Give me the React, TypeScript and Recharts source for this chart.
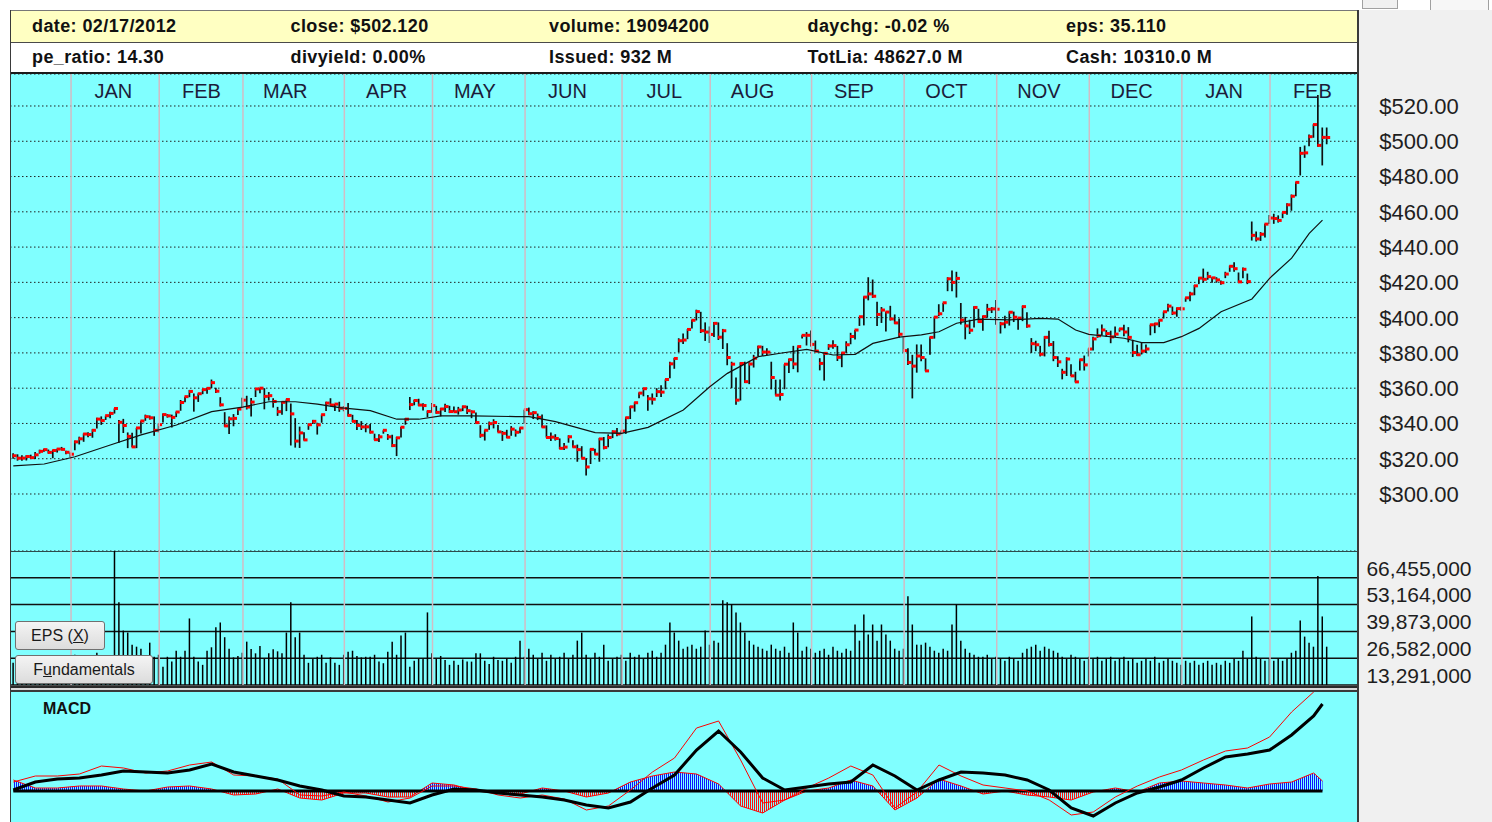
import React from 'react';
import { ComposedChart, Bar, Line, Area, XAxis, YAxis, CartesianGrid, ReferenceLine } from 'recharts';

const FONT = "'Liberation Sans', Arial, sans-serif";
const CYAN = '#80ffff';
const MONTH_LINE = '#d2bcc4';

// ---------- header ----------
const headerRow1 = ['date: 02/17/2012', 'close: $502.120', 'volume: 19094200', 'daychg: -0.02 %', 'eps: 35.110'];
const headerRow2 = ['pe_ratio: 14.30', 'divyield: 0.00%', 'Issued: 932 M', 'TotLia: 48627.0 M', 'Cash: 10310.0 M'];

// ---------- months ----------
const monthNames = ['JAN', 'FEB', 'MAR', 'APR', 'MAY', 'JUN', 'JUL', 'AUG', 'SEP', 'OCT', 'NOV', 'DEC', 'JAN', 'FEB'];
const monthFirstIdx = [14, 34, 53, 76, 96, 117, 139, 159, 182, 203, 224, 245, 266, 286];

// ---------- daily prices (Dec 13 2010 .. Feb 17 2012) ----------
const closes = [
  321.67, 320.29, 320.36, 321.25, 320.61, 322.21, 324.2, 325.16, 323.6, 324.68, 325.47, 325.29, 323.66, 322.56,
  329.57, 331.29, 334.0, 333.73, 336.12, 342.46, 341.64, 344.42, 345.68, 348.48, 340.65, 338.84, 332.68, 326.72, 337.45, 341.4, 343.85, 343.21, 336.1, 339.32,
  345.03, 344.32, 343.44, 346.5, 351.88, 355.2, 358.16, 354.54, 356.85, 359.18, 359.9, 363.13, 358.3, 350.56, 338.61, 342.62, 342.88, 348.16, 353.21,
  349.31, 352.12, 359.56, 360.0, 355.36, 355.76, 352.47, 346.67, 351.99, 353.56, 345.43, 330.01, 334.64, 330.67, 339.3, 341.2, 339.19, 344.97, 351.54, 350.44, 350.96, 348.63, 348.51,
  344.56, 341.19, 338.89, 338.04, 338.08, 335.06, 330.8, 332.4, 336.13, 332.42, 327.46, 331.85, 337.86, 342.41, 350.7, 353.01, 350.42, 350.15, 346.75, 350.13,
  346.28, 348.2, 349.57, 346.75, 346.66, 347.6, 349.45, 347.23, 346.57, 340.5, 333.3, 336.14, 339.87, 340.53, 335.22, 334.4, 332.19, 336.78, 335.0, 337.41, 347.83,
  345.51, 346.1, 343.44, 338.04, 332.04, 332.24, 331.49, 325.9, 326.6, 332.44, 326.75, 325.16, 320.26, 315.32, 325.3, 322.61, 331.23, 326.35, 332.04, 335.26, 334.04, 335.67,
  343.26, 349.43, 351.76, 357.2, 359.71, 354.0, 353.75, 358.02, 357.77, 364.92, 373.8, 376.85, 386.9, 387.29, 393.3, 398.5, 403.41, 392.59, 391.82, 390.48,
  396.75, 388.91, 392.57, 377.37, 373.62, 353.21, 374.01, 363.69, 373.7, 376.99, 383.41, 380.48, 380.44, 366.05, 356.03, 356.44, 373.6, 376.18, 373.72, 383.58, 389.97, 389.99, 384.83,
  381.03, 374.05, 379.74, 383.93, 384.14, 377.48, 379.94, 384.62, 389.3, 392.96, 400.5, 411.63, 413.45, 412.14, 401.82, 404.3, 403.17, 399.26, 397.01, 390.57, 381.32,
  374.6, 372.5, 378.25, 377.37, 369.8, 388.81, 400.29, 402.19, 408.43, 422.0, 419.99, 422.24, 398.62, 395.31, 392.87, 405.77, 397.77, 400.6, 404.69, 404.95, 404.78,
  396.51, 397.41, 403.07, 400.24, 399.73, 406.23, 395.28, 385.22, 384.62, 379.26, 388.83, 384.77, 377.41, 374.94, 369.01, 376.51, 366.99, 363.57, 376.12, 373.2, 382.2,
  387.93, 389.7, 393.01, 390.95, 389.09, 390.66, 393.62, 391.84, 388.81, 380.19, 378.94, 381.02, 382.21, 395.95, 396.45, 398.55, 403.33, 406.53, 402.64, 405.12, 405.0,
  411.23, 413.44, 418.03, 422.4, 421.73, 423.24, 422.55, 421.39, 419.81, 424.7, 429.11, 427.75, 420.3, 427.41, 420.41, 446.66, 444.63, 447.28, 453.01, 456.48,
  456.19, 455.12, 459.68, 463.97, 468.83, 476.68, 493.17, 493.42, 502.6, 509.46, 497.67, 502.21, 502.12,
];
const highs = [
  323.1, 322.5, 321.9, 322.0, 322.3, 323.8, 325.1, 325.7, 325.2, 325.0, 325.7, 326.7, 324.5, 323.5,
  330.3, 332.5, 334.3, 335.0, 336.7, 343.2, 344.0, 344.4, 346.6, 348.5, 342.0, 342.6, 334.9, 334.7, 337.5, 341.5, 345.0, 344.5, 344.0, 340.0,
  345.6, 345.3, 345.0, 346.7, 353.3, 355.2, 359.0, 357.0, 357.0, 359.5, 360.0, 364.9, 360.3, 354.9, 346.4, 344.0, 345.3, 348.4, 354.6,
  355.7, 354.4, 359.8, 360.0, 360.0, 357.8, 354.3, 349.4, 352.3, 353.6, 351.3, 343.0, 338.2, 335.0, 339.6, 342.0, 340.4, 345.0, 352.3, 354.3, 351.0, 352.3, 349.8,
  351.6, 344.9, 342.0, 341.3, 339.7, 339.7, 334.2, 333.9, 336.1, 334.0, 333.6, 332.4, 338.0, 343.0, 355.0, 353.4, 354.0, 351.5, 347.3, 351.6,
  350.0, 348.7, 351.2, 350.0, 349.6, 349.4, 350.1, 350.0, 347.4, 346.2, 339.0, 336.2, 341.1, 342.4, 339.1, 335.7, 336.4, 338.5, 336.6, 337.7, 347.8,
  349.0, 347.0, 345.6, 345.1, 338.9, 334.8, 333.9, 331.5, 328.9, 333.3, 330.5, 328.0, 327.1, 320.2, 325.8, 325.7, 331.7, 332.3, 333.8, 336.1, 337.4, 336.0,
  343.5, 349.8, 352.0, 357.6, 360.0, 356.1, 357.0, 360.0, 361.6, 365.0, 375.0, 377.1, 388.3, 391.0, 393.5, 398.8, 404.5, 403.3, 397.3, 395.0,
  397.5, 397.3, 393.6, 385.5, 375.0, 366.0, 374.7, 375.0, 374.6, 378.9, 384.0, 384.0, 382.6, 375.0, 364.8, 364.9, 373.6, 376.7, 384.0, 383.6, 390.0, 391.8, 392.7,
  387.0, 377.0, 380.4, 385.0, 387.2, 384.0, 380.3, 386.6, 391.4, 393.0, 400.5, 412.0, 422.9, 421.6, 409.0, 406.0, 403.4, 406.7, 401.8, 399.5, 388.9,
  382.7, 378.9, 384.8, 384.8, 376.9, 388.9, 400.5, 407.6, 408.4, 422.9, 426.7, 426.0, 408.3, 400.4, 398.8, 406.4, 405.0, 401.0, 407.8, 406.0, 410.0,
  397.6, 401.0, 403.5, 403.4, 399.8, 406.8, 403.0, 388.4, 386.9, 384.0, 389.5, 392.5, 386.7, 378.1, 371.0, 377.5, 373.6, 369.3, 376.3, 378.5, 382.5,
  389.2, 393.9, 396.1, 392.9, 392.6, 395.0, 393.9, 395.9, 394.6, 387.4, 384.6, 385.7, 384.8, 396.0, 397.0, 399.0, 403.4, 407.9, 406.3, 405.7, 406.2,
  411.3, 414.7, 418.5, 422.8, 427.8, 426.0, 422.9, 422.9, 421.0, 426.0, 429.5, 431.4, 425.6, 428.4, 425.0, 454.5, 448.8, 448.5, 453.2, 458.2,
  458.9, 458.0, 459.7, 464.9, 469.8, 476.8, 496.8, 497.6, 503.8, 509.6, 526.3, 507.8, 507.8,
];
const lows = [
  320.0, 318.9, 318.8, 319.0, 319.9, 319.8, 322.9, 323.9, 322.9, 320.3, 323.5, 324.9, 322.6, 320.8,
  324.8, 328.1, 329.6, 332.2, 331.9, 337.2, 339.2, 342.0, 343.0, 345.6, 329.0, 334.6, 326.0, 326.5, 326.0, 334.3, 341.5, 342.2, 333.0, 335.0,
  340.5, 343.3, 337.7, 343.6, 347.2, 352.0, 354.9, 346.7, 352.2, 356.6, 356.8, 360.0, 357.3, 349.6, 338.2, 334.0, 338.4, 344.8, 348.8,
  347.9, 344.0, 355.0, 357.1, 348.0, 353.0, 349.0, 344.3, 345.0, 347.0, 327.5, 326.3, 326.1, 330.4, 336.4, 339.7, 333.7, 340.4, 347.0, 350.3, 347.0, 346.6, 346.9,
  344.0, 340.8, 336.3, 336.3, 335.0, 334.3, 330.5, 329.5, 334.2, 330.7, 326.6, 321.5, 332.0, 339.3, 347.6, 350.3, 350.0, 347.3, 343.6, 346.0,
  345.5, 344.0, 346.5, 345.9, 346.6, 345.0, 347.0, 345.3, 343.0, 340.1, 331.9, 330.3, 336.4, 337.2, 335.0, 330.1, 331.8, 333.0, 332.5, 334.4, 340.0,
  344.7, 342.5, 341.9, 337.7, 332.0, 330.0, 330.3, 325.5, 324.9, 329.1, 326.4, 318.3, 320.2, 310.5, 317.0, 322.4, 318.3, 325.3, 326.5, 331.7, 332.7, 333.8,
  334.1, 342.5, 346.7, 354.3, 355.4, 347.2, 350.7, 355.0, 355.0, 359.4, 365.6, 371.0, 380.3, 385.1, 387.8, 393.8, 398.4, 391.3, 386.8, 385.6,
  389.0, 387.3, 382.2, 373.0, 360.0, 350.6, 353.0, 363.0, 362.3, 371.7, 378.1, 378.3, 378.6, 359.3, 355.9, 353.0, 359.4, 368.6, 370.8, 369.0, 388.1, 384.2, 383.6,
  380.5, 370.1, 364.3, 381.7, 382.4, 375.4, 371.9, 380.0, 384.9, 387.6, 395.3, 395.6, 409.8, 411.2, 395.3, 397.0, 392.2, 398.4, 396.5, 388.6, 380.4,
  373.2, 354.2, 368.8, 375.3, 369.6, 379.0, 388.1, 400.8, 403.3, 415.0, 415.0, 411.4, 396.1, 387.7, 390.7, 394.4, 397.1, 392.5, 400.0, 402.6, 396.0,
  391.0, 394.0, 395.5, 397.5, 393.2, 398.0, 394.2, 380.0, 381.0, 378.0, 378.0, 383.7, 375.3, 372.0, 365.0, 366.9, 366.9, 363.3, 370.0, 370.0, 378.0,
  381.4, 388.6, 390.0, 389.1, 385.5, 389.0, 392.0, 389.4, 386.0, 377.7, 378.2, 379.1, 380.0, 390.0, 391.2, 394.6, 399.5, 403.5, 401.5, 400.5, 404.0,
  409.0, 409.3, 412.7, 419.0, 419.8, 421.5, 419.8, 419.8, 418.6, 422.4, 426.0, 426.0, 419.6, 422.3, 419.0, 443.7, 443.1, 443.5, 445.4, 453.1,
  453.2, 453.9, 456.4, 458.4, 460.6, 468.8, 480.6, 490.6, 497.2, 502.0, 496.9, 486.3, 498.3,
];

// moving average, read at sampled bars
const maIdx = [0, 7, 14, 22, 29, 37, 45, 52, 58, 64, 69, 74, 81, 87, 92, 97, 104, 114, 117, 123, 132, 138, 144, 152, 158, 162, 169, 174, 180, 186, 191, 195, 201, 206, 210, 214, 219, 226, 233, 237, 241, 244, 252, 256, 261, 265, 269, 274, 281, 285, 290, 294, 297];
const maVal = [316.0, 317.0, 321.1, 327.8, 333.5, 339.1, 346.7, 349.3, 352.3, 352.3, 351.0, 349.0, 347.3, 342.4, 342.4, 344.3, 344.3, 343.9, 343.9, 341.0, 334.8, 334.4, 337.8, 347.6, 360.8, 368.4, 377.9, 379.8, 382.0, 378.8, 379.2, 385.4, 388.9, 390.2, 392.0, 396.8, 399.1, 398.7, 399.6, 399.2, 393.0, 390.5, 388.3, 385.8, 385.8, 389.2, 393.9, 403.3, 410.6, 422.3, 433.7, 447.8, 455.3];

// daily volume, millions
const volumesM = [
  11, 10, 11, 12, 12, 10, 9, 8, 7, 7, 9, 8, 9, 7,
  15, 11, 13, 11, 13, 16, 12, 10, 11, 68, 41, 27, 26, 20, 19, 18, 14, 21, 14, 15,
  9, 14, 11.6, 17, 14, 17, 33, 14, 11.6, 10, 17, 18.7, 28.6, 31, 23.7, 18, 13.7, 14.4, 16, 21.5,
  17.8, 15.7, 19.3, 13, 15.7, 17.7, 16.7, 15.7, 26, 41, 23.7, 26, 15, 11, 13, 14, 15, 11, 13.7, 11,
  10, 15, 16.5, 17, 14.4, 13.7, 14, 14, 15, 11.6, 10.8, 16.5, 21.5, 15, 24.5, 26, 9, 12, 13, 13,
  36, 15.7, 13, 14.4, 12.4, 10, 12, 10, 12.7, 11.6, 11.6, 15.7, 15.7, 12, 10.4, 14, 12.4,
  12, 13, 11, 14, 22, 14, 18, 15, 13, 16,
  12, 15, 13, 14, 16, 13, 15, 22, 26, 15,
  13, 16, 14, 20, 12, 13, 14, 15, 12, 16,
  14, 15, 13, 16, 17, 14, 16, 20, 31, 26,
  22, 18, 19, 20, 18, 19, 27, 20, 22, 21,
  42, 41, 40, 36, 31, 26, 22, 20, 19, 18,
  17, 20, 18, 17, 19, 16, 31, 26, 17, 19,
  18, 16, 17, 18, 15, 19, 17, 16, 18, 17,
  30, 22, 35, 25, 30, 22, 30, 25, 22, 18,
  17, 18, 44, 30, 20, 20, 21, 19, 17, 16,
  18, 17, 30, 40, 22, 18, 16, 15, 14, 14,
  15, 13, 14, 13, 12, 14, 13, 12, 16, 18,
  19, 20, 17, 19, 18, 17, 16, 14, 13, 15,
  14, 13, 12, 14, 13, 14, 12, 13, 14, 12,
  13, 14, 12, 13, 11, 12, 13, 12, 14, 11,
  12, 13, 12, 11, 10, 12, 11, 12, 10, 11,
  12, 10, 11, 10, 12, 11, 13, 12, 17, 13,
  34, 14, 13, 12, 13, 12, 13, 12, 13, 16,
  17, 32, 24, 21, 19, 54, 34, 19,
];

// MACD panel, read at every 5th bar
const macdIdx = [0, 5, 10, 15, 20, 25, 30, 35, 40, 45, 50, 55, 60, 65, 70, 75, 80, 85, 90, 95, 100, 105, 110, 115, 120, 125, 130, 135, 140, 145, 150, 155, 160, 165, 170, 175, 180, 185, 190, 195, 200, 205, 210, 215, 220, 225, 230, 235, 240, 245, 250, 255, 260, 265, 270, 275, 280, 285, 290, 295, 297];
const macdLine = [1.8, 3.0, 3.0, 3.4, 5.0, 4.6, 3.6, 4.0, 5.2, 5.8, 3.2, 3.0, 2.4, -0.8, -1.0, -0.2, -1.0, -2.2, -1.4, 1.0, 1.0, 0.4, -0.8, -1.4, -0.8, -1.6, -3.8, -3.0, 0.2, 3.8, 6.6, 12.6, 14.0, 6.2, -2.4, -1.8, 0.6, 2.6, 5.0, 3.2, -3.4, -0.2, 5.2, 3.0, 1.2, 0.6, 0, -1.8, -4.8, -4.2, -1.2, 1.0, 2.8, 4.2, 6.2, 8.0, 8.6, 10.8, 15.8, 19.8, 21];
const signalLine = [0.2, 1.8, 2.4, 2.6, 3.2, 4.0, 3.8, 3.6, 4.2, 5.4, 3.8, 3.0, 2.2, 1.0, 0.2, -1.0, -1.2, -1.8, -2.4, -0.8, 0.4, 0.2, -0.4, -0.8, -1.2, -1.8, -2.8, -3.4, -2.2, 0.6, 3.2, 8.2, 12.0, 7.8, 2.6, 0.2, 0.8, 1.4, 1.8, 5.2, 3.0, 0.2, 2.2, 3.8, 3.6, 3.2, 2.2, 0.2, -3.4, -5.0, -2.4, -0.4, 0.8, 2.2, 4.6, 6.8, 7.4, 8.2, 11.2, 15.0, 17.4];
const histLine = [2.2, 0.6, 0.6, 1.0, 1.0, 0.4, 0, 0.8, 1.0, 0.4, -0.8, -0.6, 0.4, -1.4, -1.8, -0.4, -0.4, -1.2, -1.2, 1.6, 1.2, 0, -0.4, -0.6, 0.6, 0, -1.2, -0.4, 1.8, 3.0, 3.8, 3.4, 1.4, -3.0, -4.4, -1.8, 0, 0.6, 2.2, 1.0, -3.8, -1.4, 2.4, 1.0, -0.6, 0, -0.8, -1.2, -1.8, -0.2, 0.6, -0.2, 1.6, 2.0, 1.6, 1.2, 0.6, 1.4, 1.8, 3.6, 2.0];

const priceTicks = [300, 320, 340, 360, 380, 400, 420, 440, 460, 480, 500, 520];
const volumeTicks = [13291000, 26582000, 39873000, 53164000, 66455000];

// ---------- derived tables ----------
const priceData = closes.map((c, i) => ({
  i,
  close: c,
  high: highs[i],
  low: lows[i],
  vol: volumesM[i] * 1e6,
  ma: null as number | null,
}));
maIdx.forEach((idx, k) => {
  priceData[idx].ma = maVal[k];
});
const macdData = macdIdx.map((i, k) => ({ i, macd: macdLine[k], signal: signalLine[k], hist: histLine[k] }));

const monthLineIdx = monthFirstIdx.map((f) => f - 0.9);
const monthLabelIdx = monthFirstIdx.map((f) => f + 8.7);
const X_DOMAIN: [number, number] = [-0.75, 305.06];

// ---------- shapes & ticks ----------
const OhlcShape = (p: any) => {
  const { x, y, width, height, payload } = p;
  if (x == null || y == null || !payload) return null;
  const top = Math.min(y, y + height);
  const h = Math.abs(height);
  const cx = x + width / 2;
  const range = payload.high - payload.low;
  const cy = range > 0 ? top + ((payload.high - payload.close) / range) * h : top;
  return (
    <g>
      <line x1={cx} x2={cx} y1={top} y2={top + h} stroke="#101010" strokeWidth={1.7} />
      <rect x={cx - 0.5} y={cy - 1.5} width={4} height={3} fill="#ff0000" />
    </g>
  );
};

const VolShape = (p: any) => {
  const { x, y, width, height } = p;
  if (x == null || y == null) return null;
  const top = Math.min(y, y + height);
  const h = Math.abs(height);
  const cx = x + width / 2;
  return <line x1={cx} x2={cx} y1={top} y2={top + h} stroke="#000" strokeWidth={1.5} />;
};

const MonthLabel = (p: any) => {
  const vb = p.viewBox || {};
  return (
    <text x={vb.x} y={17} textAnchor="middle" dominantBaseline="central" fontSize={20} fill="#1c1c3a" fontFamily={FONT}>
      {p.text}
    </text>
  );
};

const PriceTick = (p: any) => (
  <text x={1409} y={p.y} dy="0.36em" textAnchor="middle" fontSize={22} fill="#1e1e1e" fontFamily={FONT}>
    {'$' + Number(p.payload.value).toFixed(2)}
  </text>
);

const VolTick = (p: any) => (
  <text x={1409} y={p.y + 17} dy="0.36em" textAnchor="middle" fontSize={21} fill="#1e1e1e" fontFamily={FONT}>
    {Number(p.payload.value).toLocaleString('en-US')}
  </text>
);

const btnStyle: React.CSSProperties = {
  position: 'absolute',
  left: 15,
  height: 29,
  border: '1px solid #707070',
  borderRadius: 3,
  background: 'linear-gradient(#f4f4f4, #dcdcdc)',
  fontFamily: FONT,
  fontSize: 16,
  color: '#1a1a1a',
  display: 'flex',
  alignItems: 'center',
  justifyContent: 'center',
  boxSizing: 'border-box',
};

const headStyle: React.CSSProperties = {
  position: 'absolute',
  fontSize: 18,
  fontWeight: 'bold',
  color: '#111',
  whiteSpace: 'nowrap',
  lineHeight: '22px',
  letterSpacing: 0.4,
};

export default function App() {
  return (
    <div style={{ position: 'absolute', left: 0, top: 0, width: 1492, height: 822, background: '#fff', overflow: 'hidden', fontFamily: FONT }}>
      {/* window bits at top right */}
      <div style={{ position: 'absolute', left: 1362, top: -12, width: 34, height: 19, border: '1px solid #a0a0a0', background: '#f0f0f0' }} />
      <div style={{ position: 'absolute', left: 1430, top: -12, width: 57, height: 21, border: '1px solid #a0a0a0', background: '#f7f7f7' }} />
      {/* right gray panel */}
      <div style={{ position: 'absolute', left: 1359, top: 10, width: 133, height: 812, background: '#f0f0f0' }} />

      {/* header rows */}
      <div style={{ position: 'absolute', left: 10, top: 10, width: 1348, height: 32, background: '#ffffc2', borderTop: '1px solid #777', boxSizing: 'border-box' }} />
      <div style={{ position: 'absolute', left: 10, top: 42, width: 1348, height: 1, background: '#4a4a4a' }} />
      <div style={{ position: 'absolute', left: 10, top: 43, width: 1348, height: 29, background: '#fff' }} />
      <div style={{ position: 'absolute', left: 10, top: 72, width: 1348, height: 2, background: '#1a1a1a' }} />
      {headerRow1.map((t, k) => (
        <div key={'h1' + k} style={{ ...headStyle, left: 32 + k * 258.5, top: 15 }}>
          {t}
        </div>
      ))}
      {headerRow2.map((t, k) => (
        <div key={'h2' + k} style={{ ...headStyle, left: 32 + k * 258.5, top: 46 }}>
          {t}
        </div>
      ))}

      {/* price panel */}
      <div style={{ position: 'absolute', left: 10, top: 74 }}>
        <ComposedChart width={1482} height={477} data={priceData} margin={{ top: 0, right: 0, bottom: 0, left: 0 }}>
          <CartesianGrid vertical={false} fill={CYAN} stroke="#222" strokeDasharray="1.5 2.5" />
          <XAxis type="number" dataKey="i" domain={X_DOMAIN} allowDataOverflow hide />
          <YAxis
            orientation="right"
            width={134}
            domain={[267.68, 538.14]}
            allowDataOverflow
            ticks={priceTicks}
            interval={0}
            axisLine={false}
            tickLine={false}
            tick={PriceTick}
          />
          {monthLineIdx.map((v, k) => (
            <ReferenceLine key={'pm' + k} x={v} stroke={MONTH_LINE} strokeWidth={1.5} />
          ))}
          {monthLabelIdx.map((v, k) => (
            <ReferenceLine key={'pl' + k} x={v} stroke="none" strokeOpacity={0} label={<MonthLabel text={monthNames[k]} />} />
          ))}
          <Line type="linear" dataKey="ma" stroke="#111" strokeWidth={1.2} dot={false} connectNulls isAnimationActive={false} />
          <Bar dataKey={(d: any) => [d.low, d.high]} barSize={4} shape={OhlcShape} isAnimationActive={false} />
        </ComposedChart>
      </div>

      {/* volume panel */}
      <div style={{ position: 'absolute', left: 10, top: 551 }}>
        <ComposedChart width={1482} height={137} data={priceData} margin={{ top: 0, right: 0, bottom: 3, left: 0 }}>
          <CartesianGrid vertical={false} fill={CYAN} stroke="#111" strokeWidth={1.5} />
          <XAxis type="number" dataKey="i" domain={X_DOMAIN} allowDataOverflow hide />
          <YAxis
            orientation="right"
            width={134}
            domain={[0, 66455000]}
            allowDataOverflow
            ticks={volumeTicks}
            interval={0}
            axisLine={false}
            tickLine={false}
            tick={VolTick}
          />
          {monthLineIdx.map((v, k) => (
            <ReferenceLine key={'vm' + k} x={v} stroke={MONTH_LINE} strokeWidth={1.5} />
          ))}
          <Bar dataKey="vol" barSize={2} shape={VolShape} isAnimationActive={false} />
        </ComposedChart>
      </div>
      <div style={{ position: 'absolute', left: 10, top: 686, width: 1348, height: 2, background: '#2a2a2a' }} />
      <div style={{ position: 'absolute', left: 10, top: 688, width: 1348, height: 2, background: '#d8d8d8' }} />

      {/* buttons */}
      <div style={{ ...btnStyle, top: 621, width: 90 }}>
        <span>
          EPS (<u>X</u>)
        </span>
      </div>
      <div style={{ ...btnStyle, top: 655, width: 138 }}>
        <span>
          F<u>u</u>ndamentals
        </span>
      </div>

      {/* MACD panel */}
      <div style={{ position: 'absolute', left: 10, top: 690, width: 1348, height: 132, background: CYAN, borderTop: '2px solid #3a3a3a', boxSizing: 'border-box' }} />
      <svg width={0} height={0} style={{ position: 'absolute' }}>
        <defs>
          <pattern id="histPat" patternUnits="userSpaceOnUse" x={0} y={0} width={2} height={130}>
            <rect x={0} y={0} width={1} height={99} fill="#1010ff" />
            <rect x={0} y={99} width={1} height={31} fill="#ff1010" />
          </pattern>
        </defs>
      </svg>
      <div style={{ position: 'absolute', left: 10, top: 692 }}>
        <ComposedChart width={1348} height={130} data={macdData} margin={{ top: 0, right: 0, bottom: 0, left: 0 }}>
          <XAxis type="number" dataKey="i" domain={X_DOMAIN} allowDataOverflow hide />
          <YAxis domain={[-6.2, 19.8]} allowDataOverflow hide />
          <Area type="linear" dataKey="hist" baseValue={0} stroke="#ff0000" strokeWidth={1} fill="url(#histPat)" fillOpacity={1} isAnimationActive={false} />
          <ReferenceLine segment={[{ x: 0, y: 0 }, { x: 297, y: 0 }]} stroke="#000" strokeWidth={3} />
          <Line type="linear" dataKey="macd" stroke="#ff0000" strokeWidth={1} dot={false} isAnimationActive={false} />
          <Line type="linear" dataKey="signal" stroke="#000" strokeWidth={3} dot={false} isAnimationActive={false} />
        </ComposedChart>
      </div>
      <div style={{ position: 'absolute', left: 43, top: 699, fontSize: 16, fontWeight: 'bold', color: '#111', lineHeight: '20px' }}>MACD</div>

      {/* frame borders */}
      <div style={{ position: 'absolute', left: 10, top: 10, width: 1, height: 812, background: '#3a3a3a' }} />
      <div style={{ position: 'absolute', left: 1357, top: 10, width: 2, height: 812, background: '#3a3a3a' }} />
    </div>
  );
}
